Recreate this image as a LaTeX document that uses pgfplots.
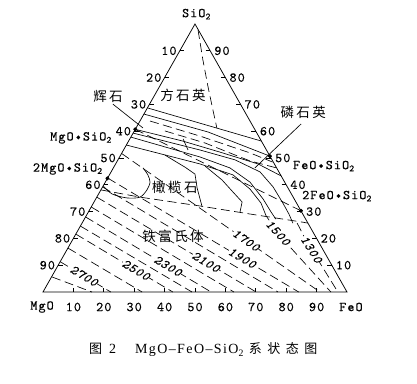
\documentclass[border=0pt]{standalone}
\usepackage{fontspec}
\usepackage{pgfplots}
\pgfplotsset{compat=1.18}
\newfontfamily\labfont{lmmono10-regular}[Extension=.otf, LetterSpace=8, FakeBold=0.3]
\newcommand\lf{\labfont\fontsize{13.5}{15}\selectfont}
\newfontfamily\isofont{lmmono10-italic}[Extension=.otf, LetterSpace=6, FakeBold=0.3]
\newcommand\isf{\isofont\fontsize{13}{15}\selectfont}
\newfontfamily\cjkfont{Noto Sans CJK SC}[LetterSpace=18]
\newcommand\cf{\cjkfont\fontsize{13.5}{15}\selectfont}
\newfontfamily\capserif{Liberation Serif}[LetterSpace=10]
\newfontfamily\capcjkraw{Noto Sans CJK SC}
\newcommand\capcjk{\capcjkraw\fontsize{13}{14}\selectfont}
\newcommand\caplat{\capserif\fontsize{14}{14}\selectfont}
\tikzset{iso/.style={dash pattern=on 9pt off 4.5pt},
  tl/.style={font=\isf, fill=white, inner sep=0.3pt},
  le/.style={font=\lf, anchor=east, inner sep=0pt},
  ri/.style={font=\lf, anchor=west, inner sep=0pt}}
\begin{document}
\begin{tikzpicture}
\begin{axis}[scale only axis, width=417pt, height=383pt,
  xmin=-14.14, xmax=123.03, ymin=-33.96, ymax=108.96,
  hide axis, clip=false,
  cycle list={{black, mark=none}},
  every axis plot/.append style={line width=0.65pt, line join=round},
  every axis plot post/.append style={black}]
% bounding box of the whole figure
\addplot[draw=none] coordinates {(-14.14,-33.96) (123.03,108.96)};
% triangle
\addplot[line width=0.75pt, line join=miter] coordinates {(50,0) (100,0) (50,100) (0,0) (50,0)};
% bottom ticks
\pgfplotsinvokeforeach{10,20,30,40,50,60,70,80,90}{\addplot coordinates {(#1,0) (#1,1.5)};}
% left ticks
\addplot coordinates {(45,90) (46.5,90)};
\addplot coordinates {(40,80) (41.5,80)};
\addplot coordinates {(35,70) (36.5,70)};
\addplot coordinates {(30,60) (31.5,60)};
\addplot coordinates {(25,50) (26.5,50)};
\addplot coordinates {(20,40) (21.5,40)};
\addplot coordinates {(15,30) (16.5,30)};
\addplot coordinates {(10,20) (11.5,20)};
\addplot coordinates {(5,10) (6.5,10)};
% right ticks
\addplot coordinates {(53.5,90) (55,90)};
\addplot coordinates {(58.5,80) (60,80)};
\addplot coordinates {(63.5,70) (65,70)};
\addplot coordinates {(68.5,60) (70,60)};
\addplot coordinates {(73.5,50) (75,50)};
\addplot coordinates {(78.5,40) (80,40)};
\addplot coordinates {(83.5,30) (85,30)};
\addplot coordinates {(88.5,20) (90,20)};
\addplot coordinates {(93.5,10) (95,10)};
% isotherms (dashed)
\addplot[iso] coordinates {(3.0,5.6) (16.1,0)};
\addplot[iso] coordinates {(5.65,11.3) (22.3,0)};
\addplot[iso] coordinates {(8.2,16.4) (32.6,0)};
\addplot[iso] coordinates {(10.8,21.6) (42.7,0)};
\addplot[iso] coordinates {(12.3,24.6) (49.0,0)};
\addplot[iso] coordinates {(14.0,28.0) (55.3,0)};
\addplot[iso] coordinates {(15.9,31.7) (62.8,0)};
\addplot[iso] coordinates {(17.7,35.4) (70.1,0)};
\addplot[iso] coordinates {(19.6,39.2) (77.3,0)};
\addplot[iso] coordinates {(21.3,42.5) (84.1,0)};
\addplot[iso] coordinates {(25.85,51.7) (91.1,0)};
\addplot[iso] coordinates {(73.4,28.4) (78.3,20.5) (94.7,0)};
\addplot[iso] coordinates {(83.6,25.7) (86.8,18.7) (97.0,0)};
% olivine / wustite boundary
\addplot[iso] coordinates {(19.05,38.1) (31.9,35.4) (51.6,32.1) (68.1,29.1) (85.2,26.1)};
\addplot coordinates {(85.2,26.1) (87.15,25.7)};
% cristobalite / tridymite boundary
\addplot[iso] coordinates {(51.0,97.8) (52.6,86.6) (54.3,76.5) (55.9,67.9) (57.2,61.2)};
% silica liquidus and band lines
\addplot coordinates {(34.35,68.7) (71.9,56.3)};
\addplot coordinates {(33.2,66.4) (54.3,59.7) (74.65,50.7)};
\addplot[iso] coordinates {(35.2,63.8) (51.6,58.2) (68.1,51.9) (75.5,48.5)};
\addplot[iso] coordinates {(40.1,60.1) (53.3,55.6) (68.1,48.9) (76.85,46.3)};
\addplot coordinates {(30.35,60.7) (46.05,56.3) (58.2,52.2) (70.7,47.8) (78.35,43.3)};
\addplot[iso] coordinates {(30.35,60.7) (84.85,30.3)};
\addplot coordinates {(29.65,59.3) (51.6,53.0) (63.2,49.3) (71.4,44.8) (75.7,39.2) (78.9,33.2) (80.9,29.1) (82.2,25.7)};
\addplot coordinates {(28.9,57.8) (51.6,50.4) (61.5,46.3) (68.1,41.0) (72.4,34.7) (75.0,29.9) (76.6,27.2)};
\addplot coordinates {(27.4,54.85) (51.6,47.8) (62.5,43.7) (68.1,38.4) (71.7,33.2) (73.4,28.4)};
\addplot coordinates {(46.1,57.1) (47.7,53.0)};
% olivine field curves
\addplot coordinates {(40.1,51.1) (46.7,46.6) (50.0,44.0) (50.7,38.8) (52.3,32.0)};
\addplot coordinates {(53.3,47.0) (58.9,41.8) (62.5,37.3) (65.5,33.6) (64.8,29.8)};
\addplot[smooth] coordinates {(19.8,39.6) (22.7,36.6) (27.6,35.1) (31.9,35.4) (34.2,38.1) (35.2,41.0) (34.5,43.7) (32.9,46.3)};
% leader lines
\addplot coordinates {(23.0,70.1) (32.9,61.2)};
\addplot coordinates {(84.9,62.7) (69.7,46.3)};
% compounds
\addplot[only marks, mark=*, mark size=1.7pt] coordinates {(30.35,60.7) (21.2,42.4) (74.65,50.7) (84.85,30.3)};
% isotherm labels
\node[tl, rotate=-31] at (axis cs:13.5,6.0) {2700};
\node[tl, rotate=-31] at (axis cs:30.6,8.2) {2500};
\node[tl, rotate=-31] at (axis cs:41.1,9.7) {2300};
\node[tl, rotate=-31] at (axis cs:53.6,11.2) {2100};
\node[tl, rotate=-31] at (axis cs:65.5,12.7) {1900};
\node[tl, rotate=-35] at (axis cs:66.8,19.3) {1700};
\node[tl, rotate=-48] at (axis cs:77.3,22.1) {1500};
\node[tl, rotate=-58] at (axis cs:88.3,15.9) {1300};
% edge labels
\pgfplotsinvokeforeach{10,20,30,40,50,60,70,80,90}{\node[font=\lf] at (axis cs:#1,-5.6) {#1};}
\node[font=\lf] at (axis cs:-0.3,-5.6) {MgO};
\node[font=\lf] at (axis cs:101.3,-5.6) {FeO};
\node[font=\lf] at (axis cs:50.5,103.7) {SiO\textsubscript{2}};
\node[le] at (axis cs:44.0,90) {10};
\node[le] at (axis cs:39.0,80) {20};
\node[le] at (axis cs:34.0,70) {30};
\node[le] at (axis cs:29.0,60) {40};
\node[le] at (axis cs:24.0,50) {50};
\node[le] at (axis cs:19.0,40) {60};
\node[le] at (axis cs:14.0,30) {70};
\node[le] at (axis cs:9.0,20) {80};
\node[le] at (axis cs:4.0,10) {90};
\node[ri] at (axis cs:56.3,90) {90};
\node[ri] at (axis cs:61.3,80) {80};
\node[ri] at (axis cs:66.3,70) {70};
\node[ri] at (axis cs:71.3,60) {60};
\node[ri] at (axis cs:76.3,50) {50};
\node[ri] at (axis cs:81.3,40) {40};
\node[ri] at (axis cs:86.5,30) {30};
\node[ri] at (axis cs:91.3,20) {20};
\node[ri] at (axis cs:96.3,10) {10};
% compound labels
\node[font=\lf, anchor=east, inner sep=0] at (axis cs:22.7,57.5) {MgO\textbullet SiO\textsubscript{2}};
\node[font=\lf, anchor=east, inner sep=0] at (axis cs:19.7,45.9) {2MgO\textbullet SiO\textsubscript{2}};
\node[font=\lf, anchor=west, inner sep=0] at (axis cs:82.2,47.0) {FeO\textbullet SiO\textsubscript{2}};
\node[font=\lf, anchor=west, inner sep=0] at (axis cs:85.2,35.8) {2FeO\textbullet SiO\textsubscript{2}};
% phase field names
\node[font=\cf, inner sep=0] at (axis cs:46.05,73.5) {方石英};
\node[font=\cf, inner sep=0] at (axis cs:21.4,72.8) {辉石};
\node[font=\cf, inner sep=0] at (axis cs:85.6,67.0) {磷石英};
\node[font=\cf, inner sep=0] at (axis cs:43.4,39.2) {橄榄石};
\node[font=\cf, inner sep=0] at (axis cs:42.8,20.9) {铁富氏体};
% caption
\node[inner sep=0, anchor=west] at (axis cs:15.1,-21.6) {{\capcjk 图}\hspace{7pt}{\caplat 2\hspace{19pt}MgO–FeO–SiO\textsubscript{2}}\hspace{5pt}{\capcjk 系\hspace{5.5pt}状\hspace{5.5pt}态\hspace{5.5pt}图}};
\end{axis}
\end{tikzpicture}
\end{document}
